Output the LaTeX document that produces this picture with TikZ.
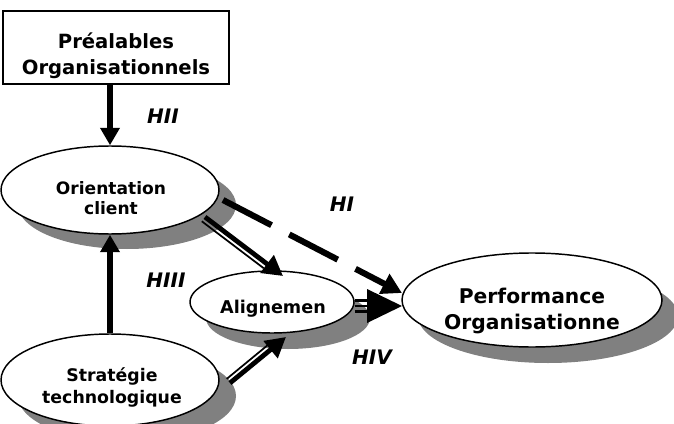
\documentclass[tikz,border=0pt]{standalone}
\usepackage{fontspec}
\setmainfont{DejaVu Sans}
\usetikzlibrary{arrows.meta,calc,shapes.geometric}
\definecolor{shadowgray}{RGB}{128,128,128}
\begin{document}
\begin{tikzpicture}[x=0.75pt,y=-0.75pt,
  oval/.style={ellipse,draw=black,line width=1.1pt,fill=white,inner sep=0pt},
  shad/.style={ellipse,fill=shadowgray,draw=none,inner sep=0pt},
  boxtxt/.style={align=center,inner sep=0pt,font=\bfseries\fontsize{14.7}{19.5}\selectfont},
  ovtxt/.style={align=center,inner sep=0pt,font=\bfseries\fontsize{12.8}{15}\selectfont},
  hyp/.style={inner sep=0pt,font=\bfseries\itshape\fontsize{15}{18}\selectfont},
  vthick/.style={line width=4.2pt,-{Triangle[width=14pt,length=13pt]}},
  dthick/.style={line width=3.6pt,-{Triangle[width=16pt,length=15pt]}},
  dthin/.style={line width=1.3pt},
  dashedarrow/.style={line width=4.6pt,dash pattern=on 41pt off 15pt,-{Triangle[width=16pt,length=15pt]}},
  triline/.style={line width=2.2pt}
]
\clip (0,0) rectangle (674,424);
% shadows
\node[shad,minimum width=163.5pt,minimum height=66pt] (oriS) at (127,205) {};
\node[shad,minimum width=163.5pt,minimum height=69pt] (stratS) at (127,396) {};
\node[shad,minimum width=123pt,minimum height=46.5pt] (aliS) at (288,318) {};
\node[shad,minimum width=195pt,minimum height=70.5pt] (perfS) at (548,316) {};
% box
\node[draw=black,line width=1.5pt,fill=white,minimum width=169.5pt,minimum height=54.75pt,inner sep=0pt] (box) at (116,47.5) {};
\node[boxtxt] (boxT) at (116,56) {Préalables\\Organisationnels};
% ellipses
\node[oval,minimum width=163.5pt,minimum height=66pt] (ori) at (110,190) {};
\node[oval,minimum width=163.5pt,minimum height=69pt] (strat) at (110,380) {};
\node[oval,minimum width=123pt,minimum height=46.5pt] (ali) at (272,302) {};
\node[oval,minimum width=195pt,minimum height=70.5pt] (perf) at (532,300) {};
% ellipse texts
\node[ovtxt] (oriT) at (111,198) {Orientation\\client};
\node[ovtxt,font=\bfseries\fontsize{13}{16.5}\selectfont] (stratT) at (112,387) {Stratégie\\technologique};
\node[ovtxt,font=\bfseries\fontsize{13.2}{16}\selectfont] (aliT) at (273,309) {Alignemen};
\node[boxtxt,font=\bfseries\fontsize{15.2}{19.5}\selectfont] (perfT) at (532,311) {Performance\\Organisationne};
% hypotheses labels
\node[hyp] (hII) at (163,116) {HII};
\node[hyp] (hI) at (342,204) {HI};
\node[hyp] (hIII) at (166,280) {HIII};
\node[hyp] (hIV) at (372,357) {HIV};
% vertical arrows
\draw[vthick] (box.south -| ori.north) -- (ori.north);
\draw[vthick] (strat.north) -- (ori.south);
% orientation -> alignement (double)
\coordinate (oaS) at ($(ori.center)+(95,27)$);
\coordinate (oaT) at ($(ali.center)+(11,-26)$);
\draw[dthick] (oaS) -- (oaT);
\draw[dthin] ($(oaS)+(-3.2,4.3)$) -- ($(oaT)+(-16,-12)+(-3.2,4.3)$);
% strategie -> alignement (double)
\coordinate (saS) at ($(strat.center)+(120,3)$);
\coordinate (saT) at ($(ali.center)+(14,35)$);
\draw[dthick] (saS) -- (saT);
\draw[dthin] ($(saS)+(-3.3,-4.1)$) -- ($(saT)+(-14,11.4)+(-3.3,-4.1)$);
% alignement -> performance (triple)
\coordinate (apT) at ($(perf.center)+(-130,6)$);
\fill ($(apT)+(-35,-17)$) -- (apT) -- ($(apT)+(-35,17)$) -- cycle;
\draw[triline] ($(ali.east)+(0,-1.5)$) -- ($(apT)+(-34,-5.5)$);
\draw[triline] ($(ali.east)+(0,4)$) -- ($(apT)+(-34,0)$);
\draw[triline] ($(ali.east)+(0,9.5)$) -- ($(apT)+(-34,5.5)$);
% orientation -> performance (dashed)
\coordinate (opS) at ($(ori.center)+(113,10)$);
\coordinate (opT) at ($(perf.center)+(-130,-7)$);
\draw[dashedarrow] (opS) -- (opT);
\end{tikzpicture}
\end{document}
